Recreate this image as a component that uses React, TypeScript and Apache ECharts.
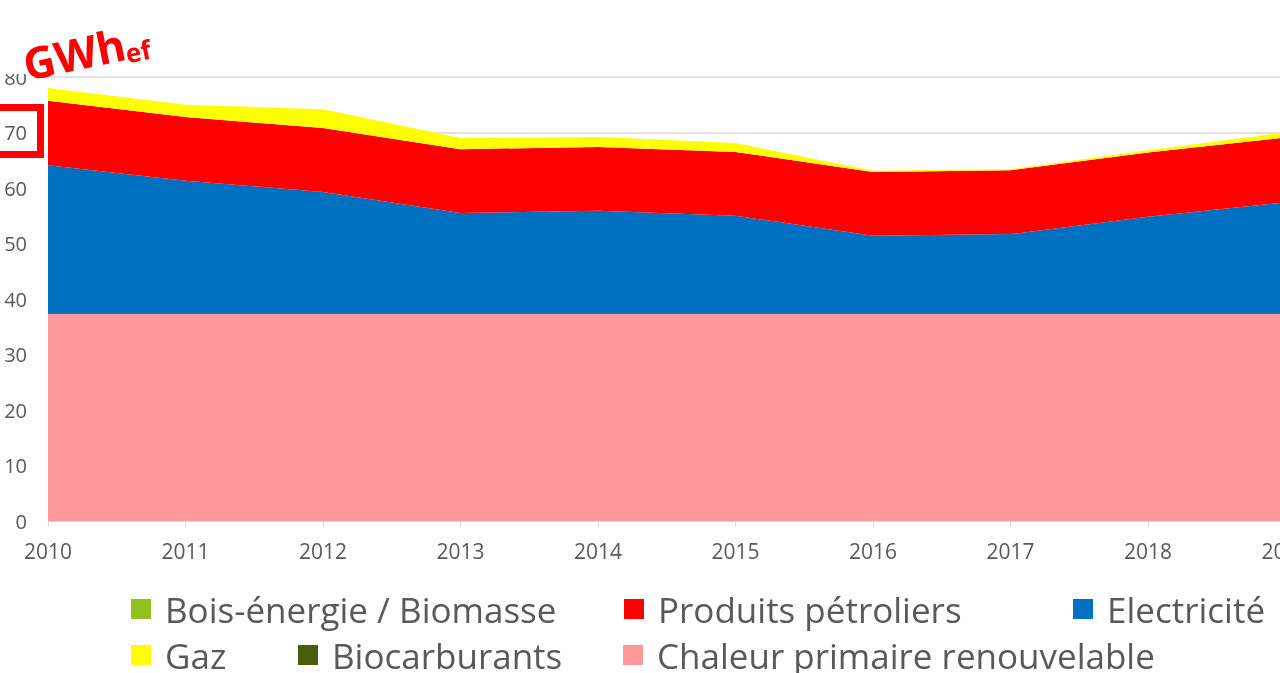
import React, { useEffect, useRef } from "react";
import * as echarts from "echarts";

const years = ["2010", "2011", "2012", "2013", "2014", "2015", "2016", "2017", "2018", "2019"];
const boisEnergie = [0, 0, 0, 0, 0, 0, 0, 0, 0, 0];
const biocarburants = [0, 0, 0, 0, 0, 0, 0, 0, 0, 0];
const chaleur = [37.3, 37.3, 37.3, 37.3, 37.3, 37.3, 37.3, 37.3, 37.3, 37.3];
const electricite = [26.8, 24.0, 22.0, 18.2, 18.6, 17.7, 14.1, 14.4, 17.5, 20.1];
const produits = [11.6, 11.5, 11.5, 11.5, 11.5, 11.5, 11.5, 11.5, 11.6, 11.7];
const gaz = [2.3, 2.2, 3.4, 2.0, 1.8, 1.6, 0.2, 0.2, 0.4, 0.9];

const FONT = "'Open Sans', 'Liberation Sans', sans-serif";
const GREY = "#595959";
const W = 1320;

export default function App() {
  const ref = useRef<HTMLDivElement>(null);
  useEffect(() => {
    if (!ref.current) return;
    const chart = echarts.init(ref.current, undefined, { renderer: "svg" });
    const mk = (name: string, data: number[], color: string) => ({
      name,
      type: "line",
      stack: "total",
      data,
      showSymbol: false,
      symbol: "none",
      lineStyle: { width: 0 },
      areaStyle: { color, opacity: 1 },
      itemStyle: { color },
      emphasis: { disabled: true },
    });
    const legendItem = (name: string, left: number, top: number) => ({
      data: [name],
      left,
      top,
      icon: "rect",
      itemWidth: 20,
      itemHeight: 20,
      textStyle: { color: GREY, fontSize: 35, fontFamily: FONT, lineHeight: 40, padding: [0, 0, 0, 9] },
      selectedMode: false,
    });
    chart.setOption({
      animation: false,
      grid: { left: 48, right: W - 1285.5, top: 77, bottom: 152, containLabel: false, outerBoundsMode: "none" },
      xAxis: {
        type: "category",
        data: years,
        boundaryGap: false,
        axisLine: { lineStyle: { color: "#d9d9d9", width: 1 } },
        axisTick: { show: true, length: 6, lineStyle: { color: "#d9d9d9" } },
        axisLabel: { color: GREY, fontSize: 21, fontFamily: FONT, margin: 19 },
      },
      yAxis: {
        type: "value",
        min: 0,
        max: 80,
        interval: 10,
        axisLine: { show: false },
        axisTick: { show: false },
        axisLabel: { color: GREY, fontSize: 20, fontFamily: FONT, margin: 21 },
        splitLine: { lineStyle: { color: "#d9d9d9", width: 1.5 } },
      },
      legend: [
        legendItem("Bois-énergie / Biomasse", 126, 584),
        legendItem("Produits pétroliers", 619, 584),
        legendItem("Electricité", 1068, 584),
        legendItem("Gaz", 126, 630),
        legendItem("Biocarburants", 293, 630),
        legendItem("Chaleur primaire renouvelable", 618, 630),
      ],
      series: [
        mk("Chaleur primaire renouvelable", chaleur, "#ff9999"),
        mk("Electricité", electricite, "#0070c0"),
        mk("Produits pétroliers", produits, "#ff0000"),
        mk("Gaz", gaz, "#ffff00"),
        mk("Bois-énergie / Biomasse", boisEnergie, "#92c01f"),
        mk("Biocarburants", biocarburants, "#4a5f0c"),
      ],
      graphic: [
        { type: "rect", z: 100, shape: { x: 0, y: 0, width: 47, height: 74 }, style: { fill: "#ffffff" } },
        {
          type: "rect",
          z: 101,
          shape: { x: -10, y: 107.5, width: 50.5, height: 47 },
          style: { fill: "none", stroke: "#ff0000", lineWidth: 7 },
        },
        {
          type: "group",
          x: 26,
          y: 76,
          rotation: 0.21,
          z: 102,
          children: [
            {
              type: "text",
              x: 0,
              y: 10,
              z: 102,
              style: { text: "GWh", fill: "#ff0000", fontSize: 44, fontWeight: "bold", fontFamily: FONT, verticalAlign: "bottom", align: "left" },
            },
            {
              type: "text",
              x: 102,
              y: 12,
              z: 102,
              style: { text: "ef", fill: "#ff0000", fontSize: 26, fontWeight: "bold", fontFamily: FONT, verticalAlign: "bottom", align: "left" },
            },
          ],
        },
      ],
    });
    return () => chart.dispose();
  }, []);
  return <div ref={ref} style={{ position: "fixed", left: 0, top: 0, width: W, height: 673 }} />;
}
